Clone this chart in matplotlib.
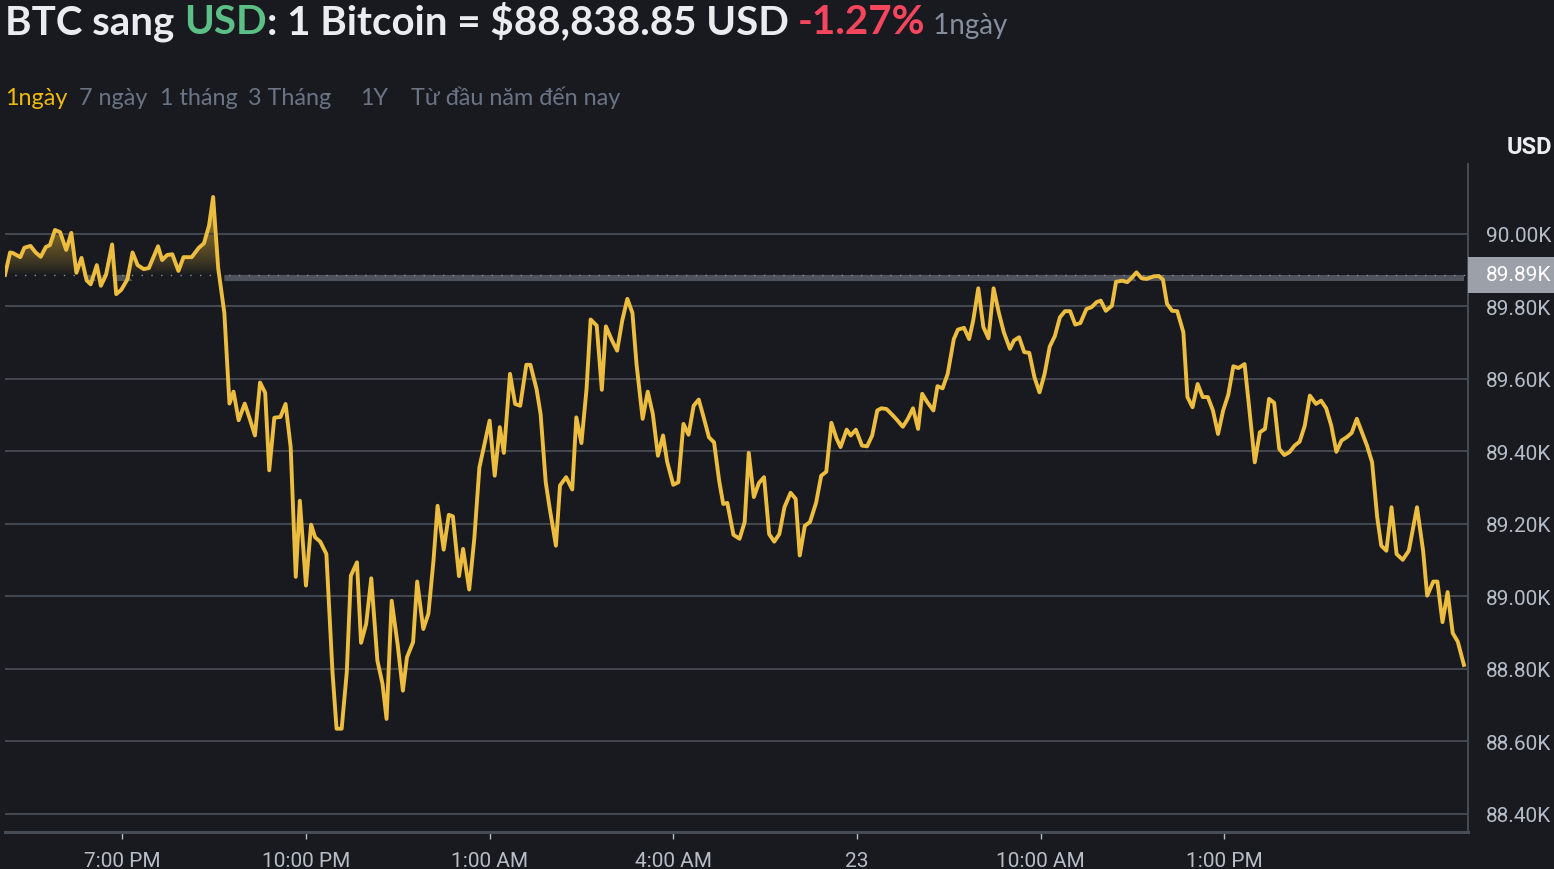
import matplotlib
matplotlib.use("Agg")
import matplotlib.pyplot as plt
import numpy as np
from matplotlib.patches import Rectangle
from matplotlib.path import Path
from matplotlib.transforms import blended_transform_factory

# minutes relative to 7:00 PM (22nd) and BTC/USD price
minutes = [-115, -110, -107, -100, -96, -90, -85, -80, -75, -71, -66, -61, -55, -50, -45, -40, -35, -31, -25, -21,
           -16, -10, -6, -1, 5, 10, 15, 21, 26, 35, 39, 44, 49, 55, 60, 68, 75, 80, 85, 89,
           94, 100, 105, 109, 114, 120, 125, 130, 135, 140, 144, 149, 155, 160, 165, 170, 174, 180, 185, 189,
           194, 200, 206, 210, 215, 220, 224, 230, 234, 239, 244, 250, 255, 259, 264, 270, 275, 279, 285, 289,
           295, 300, 305, 309, 315, 320, 324, 330, 334, 340, 345, 350, 360, 365, 370, 374, 380, 385, 390, 396,
           400, 406, 410, 415, 419, 425, 429, 435, 441, 445, 450, 455, 459, 465, 470, 474, 480, 485, 490, 495,
           500, 504, 510, 515, 520, 525, 530, 534, 540, 545, 550, 555, 560, 565, 570, 575, 580, 585, 589, 593,
           599, 605, 610, 614, 619, 624, 629, 634, 639, 644, 649, 655, 660, 664, 669, 674, 680, 685, 690, 695,
           700, 704, 710, 714, 719, 725, 730, 735, 740, 744, 749, 754, 759, 765, 770, 775, 780, 784, 789, 795,
           799, 804, 809, 815, 819, 825, 830, 834, 839, 844, 849, 854, 859, 864, 870, 874, 879, 884, 889, 894,
           899, 904, 909, 914, 919, 924, 929, 934, 939, 945, 950, 955, 959, 964, 970, 974, 980, 985, 990, 994,
           999, 1004, 1011, 1016, 1020, 1024, 1029, 1034, 1040, 1044, 1049, 1054, 1059, 1064, 1069, 1074, 1079, 1084, 1089, 1094,
           1100, 1105, 1110, 1115, 1120, 1124, 1129, 1134, 1139, 1144, 1149, 1154, 1159, 1164, 1170, 1175, 1180, 1185, 1190, 1195,
           1200, 1205, 1210, 1215, 1220, 1225, 1230, 1234, 1239, 1244, 1249, 1255, 1261, 1269, 1275, 1279, 1285, 1289, 1294, 1299,
           1304, 1309, 1315]
prices = [89887, 89949, 89947, 89936, 89962, 89967, 89949, 89937, 89964, 89969, 90011, 90005, 89956, 90003, 89893, 89934, 89872, 89861, 89914, 89857,
          89887, 89971, 89834, 89846, 89875, 89949, 89914, 89903, 89906, 89966, 89928, 89942, 89944, 89898, 89936, 89936, 89962, 89974, 90023, 90102,
          89905, 89782, 89532, 89565, 89486, 89532, 89489, 89444, 89590, 89562, 89348, 89493, 89495, 89531, 89412, 89054, 89264, 89030, 89198, 89163,
          89151, 89117, 88791, 88635, 88635, 88791, 89057, 89094, 88872, 88924, 89050, 88823, 88759, 88662, 88988, 88864, 88740, 88832, 88874, 89041,
          88910, 88952, 89099, 89250, 89129, 89225, 89221, 89056, 89131, 89019, 89159, 89356, 89485, 89333, 89467, 89396, 89614, 89531, 89526, 89639,
          89639, 89572, 89503, 89315, 89241, 89140, 89306, 89329, 89295, 89494, 89423, 89572, 89764, 89747, 89570, 89745, 89706, 89678, 89761, 89821,
          89782, 89641, 89490, 89565, 89503, 89388, 89444, 89372, 89308, 89315, 89476, 89446, 89526, 89543, 89492, 89439, 89425, 89319, 89255, 89258,
          89170, 89159, 89205, 89396, 89274, 89313, 89329, 89172, 89151, 89172, 89246, 89286, 89269, 89113, 89195, 89205, 89258, 89333, 89344, 89479,
          89436, 89412, 89460, 89444, 89460, 89416, 89414, 89444, 89513, 89519, 89517, 89503, 89488, 89468, 89490, 89519, 89462, 89559, 89536, 89513,
          89580, 89574, 89614, 89710, 89736, 89741, 89710, 89761, 89850, 89743, 89712, 89850, 89784, 89729, 89683, 89706, 89715, 89674, 89672, 89605,
          89563, 89614, 89689, 89718, 89770, 89787, 89787, 89750, 89754, 89793, 89798, 89812, 89816, 89788, 89802, 89868, 89871, 89867, 89881, 89894,
          89878, 89876, 89883, 89884, 89874, 89807, 89788, 89787, 89729, 89550, 89522, 89586, 89550, 89550, 89513, 89448, 89513, 89556, 89635, 89630,
          89641, 89508, 89370, 89453, 89462, 89545, 89534, 89407, 89390, 89398, 89416, 89427, 89471, 89554, 89531, 89540, 89519, 89471, 89399, 89430,
          89439, 89451, 89490, 89453, 89416, 89370, 89218, 89140, 89126, 89246, 89117, 89101, 89126, 89246, 89126, 89002, 89041, 89041, 88929, 89012,
          88899, 88875, 88811]

baseline = 89887
tick_minutes = [0, 180, 360, 540, 720, 900, 1080]
tick_labels = ["7:00 PM", "10:00 PM", "1:00 AM", "4:00 AM", "23", "10:00 AM", "1:00 PM"]
y_ticks = [88400, 88600, 88800, 89000, 89200, 89400, 89600, 89800, 90000]
tabs = ["1ngày", "7 ngày", "1 tháng", "3 Tháng", "1Y", "Từ đầu năm đến nay"]
tab_x = [5, 79, 160, 248, 360, 411]

W, H = 1554, 870
BG = "#181a20"
GRID = "#42464e"
YELLOW = "#ecbd3f"
LABEL = "#b7bdc6"

fig = plt.figure(figsize=(W / 100, H / 100), dpi=100, facecolor=BG)
ax = fig.add_axes([5 / W, 37 / H, 1463 / W, 668 / H], facecolor=BG)

x = np.array(minutes, dtype=float)
y = np.array(prices, dtype=float)

# gradient area above the opening price
poly = ax.fill_between(x, y, baseline, where=y >= baseline, interpolate=True,
                       facecolor="none", edgecolor="none")
clip = Path.make_compound_path(*poly.get_paths())
grad = np.zeros((256, 1, 4))
grad[..., 0], grad[..., 1], grad[..., 2] = 0.94, 0.73, 0.2
grad[:, 0, 3] = np.linspace(0.0, 1.0, 256) ** 0.8 * 0.75
img = ax.imshow(grad, extent=[x[0], x[-1], baseline, 90110], origin="lower",
                aspect="auto", zorder=1, interpolation="bilinear")
img.set_clip_path(clip, ax.transData)

# thin grey band below the opening price
ax.fill_between(x, baseline - 17, baseline, where=y < baseline, interpolate=True,
                color="#4e525a", lw=0, zorder=2)
ax.axhline(baseline, color="#8a8f98", lw=1, ls=(0, (1, 6)), zorder=3)

ax.plot(x, y, color=YELLOW, lw=2.8, solid_joinstyle="round", zorder=4)

ax.set_xlim(-115, 1319)
ax.set_ylim(88350, 90193)

ax.set_yticks(y_ticks)
ax.set_yticklabels([f"{v / 1000:.2f}K" for v in y_ticks])
ax.yaxis.tick_right()
ax.grid(axis="y", color=GRID, lw=1.5, zorder=0)
ax.tick_params(axis="y", length=0, pad=13, labelsize=15, labelcolor=LABEL)
ax.set_xticks(tick_minutes)
ax.set_xticklabels(tick_labels)
ax.tick_params(axis="x", length=5, width=1, color=LABEL, pad=9, labelsize=15, labelcolor=LABEL)
for lab in ax.get_xticklabels() + ax.get_yticklabels():
    lab.set_fontfamily("Roboto")

for side in ["left", "top"]:
    ax.spines[side].set_visible(False)
ax.spines["bottom"].set_color("#474d57")
ax.spines["bottom"].set_linewidth(2.2)
ax.spines["right"].set_color("#474d57")
ax.spines["right"].set_linewidth(1.4)

# current price tag on the right axis
tr = blended_transform_factory(ax.transAxes, ax.transData)
ax.add_patch(Rectangle((1.0, baseline - 50), 86 / 1463, 100, transform=tr,
                       facecolor="#9ca1a9", edgecolor="none", clip_on=False, zorder=5))
ax.text(1.0 + 18 / 1463, baseline, f"{baseline / 1000:.2f}K", transform=tr, color="white",
        fontsize=15, family="Roboto", va="center", ha="left", zorder=6)

fig.text(1552 / W, 1 - 147 / H, "USD", color="#eaecef", fontsize=17, fontweight="bold",
         family="Roboto", ha="right", va="center")

# header line built from coloured runs
renderer = fig.canvas.get_renderer()
runs = [("BTC sang ", "#eaecef", 29, "bold"), ("USD", "#5cbf85", 29, "bold"),
        (": 1 Bitcoin = $88,838.85 USD ", "#eaecef", 29, "bold"), ("-1.27%", "#f6465d", 29, "bold"),
        (" 1ngày", "#848e9c", 20, "normal")]
xpos = 5
for s, c, sz, wt in runs:
    t = fig.text(xpos / W, 1 - 34 / H, s, color=c, fontsize=sz, fontweight=wt,
                 family=["Lato", "Noto Sans"], va="baseline", ha="left")
    xpos = t.get_window_extent(renderer).x1

for i, (name, tx) in enumerate(zip(tabs, tab_x)):
    fig.text(tx / W, 1 - 105 / H, name, color="#f0b90b" if i == 0 else "#6b7484",
             fontsize=16.8, family=["Lato", "Noto Sans"], va="baseline", ha="left")

fig.savefig("out.png", dpi=100, facecolor=BG)
